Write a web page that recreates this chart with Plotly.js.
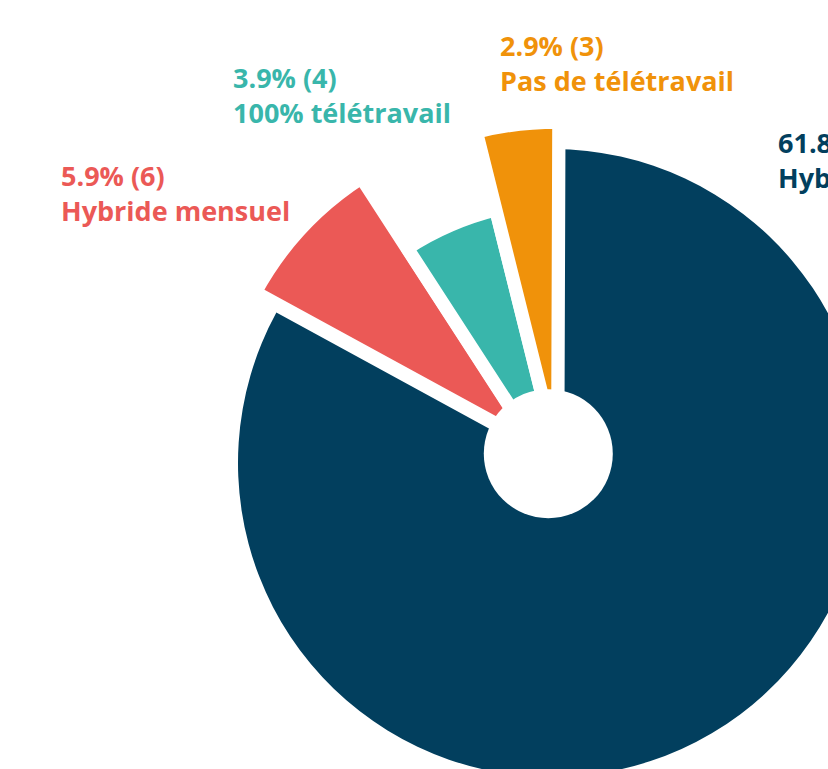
<!DOCTYPE html>
<html><head><meta charset="utf-8">
<script src="https://cdn.plot.ly/plotly-3.0.1.min.js"></script>
<style>html,body{margin:0;padding:0;overflow:hidden;background:#fff;} #chart{width:1000px;height:1000px;}</style>
</head><body><div id="chart"></div>
<script>
// ---- data ----
const categories = ['Hybride hebdomadaire', 'Hybride mensuel', '100% télétravail', 'Pas de télétravail'];
const counts = [63, 6, 4, 3];
const percents = [61.8, 5.9, 3.9, 2.9];

// ---- style ----
const colors = ['#023f5e', '#eb5956', '#39b6ab', '#f0920a'];
const W = 1000, H = 1000;
// per-slice drawing geometry (px): centre, radius, white separator width
const geom = [
  {cx: 552,   cy: 463,   r: 314,   line: 0},
  {cx: 534.2, cy: 444.5, r: 317.7, line: 13.3},
  {cx: 566.9, cy: 494.4, r: 293.3, line: 13.3},
  {cx: 557.7, cy: 457.7, r: 335.7, line: 13.3}
];
const rotation = 0.2;
const holeGeom = {cx: 548.3, cy: 453.7, r: 64.5};
const labelPos = [{x: 776, y: 122}, {x: 59, y: 155}, {x: 231, y: 57}, {x: 498, y: 25}];

const traces = geom.map((g, i) => ({
  type: 'pie',
  values: counts,
  labels: categories,
  sort: false,
  direction: 'clockwise',
  rotation: rotation,
  hole: 0,
  textinfo: 'none',
  hoverinfo: 'skip',
  showlegend: false,
  marker: {
    colors: colors.map((c, j) => j === i ? c : 'rgba(0,0,0,0)'),
    line: {color: '#ffffff', width: counts.map((_, j) => j === i ? g.line : 0)}
  },
  domain: {
    x: [(g.cx - g.r) / W, (g.cx + g.r) / W],
    y: [1 - (g.cy + g.r) / H, 1 - (g.cy - g.r) / H]
  }
}));

const annotations = categories.map((c, i) => ({
  xref: 'paper', yref: 'paper',
  x: labelPos[i].x / W, y: 1 - labelPos[i].y / H,
  xanchor: 'left', yanchor: 'top', align: 'left',
  showarrow: false,
  text: percents[i].toFixed(1) + '% (' + counts[i] + ')<br>' + c,
  font: {family: 'Open Sans', size: 27, color: colors[i], weight: 700}
}));

const layout = {
  width: W, height: H,
  margin: {l: 0, r: 0, t: 0, b: 0},
  paper_bgcolor: '#ffffff',
  showlegend: false,
  annotations: annotations,
  shapes: [{
    type: 'circle', xref: 'paper', yref: 'paper', layer: 'above',
    x0: (holeGeom.cx - holeGeom.r) / W, x1: (holeGeom.cx + holeGeom.r) / W,
    y0: 1 - (holeGeom.cy + holeGeom.r) / H, y1: 1 - (holeGeom.cy - holeGeom.r) / H,
    fillcolor: '#ffffff', line: {width: 0}
  }]
};

Plotly.newPlot('chart', traces, layout, {displayModeBar: false, staticPlot: true});
</script>
</body></html>
